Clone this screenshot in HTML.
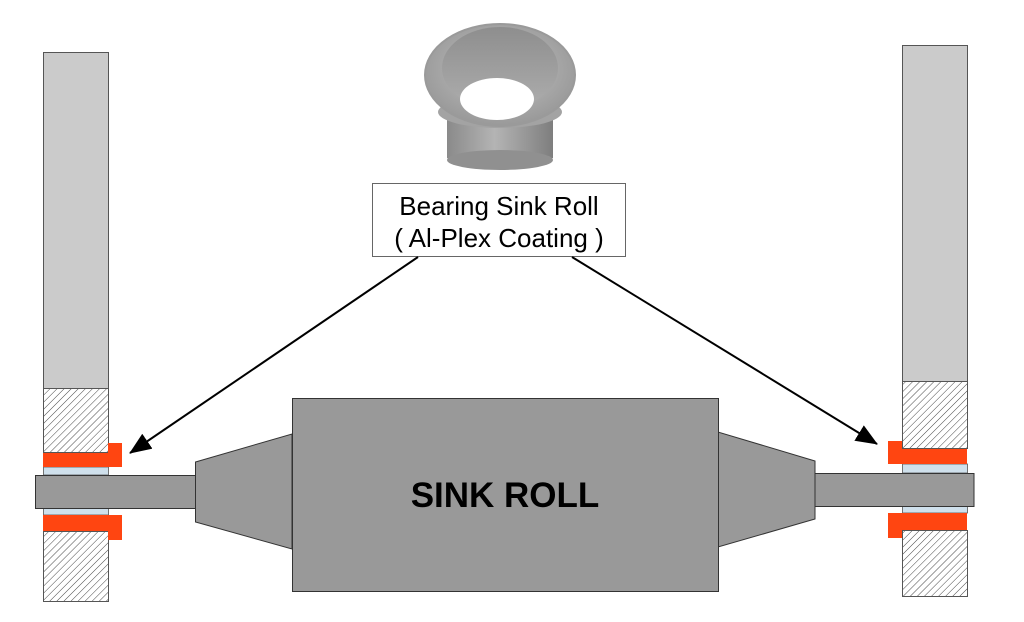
<!DOCTYPE html>
<html><head><meta charset="utf-8"><style>
html,body{margin:0;padding:0;background:#fff;}
svg{display:block;}
</style></head><body>
<svg width="1024" height="622" viewBox="0 0 1024 622" xmlns="http://www.w3.org/2000/svg">
<defs>
<pattern id="h" patternUnits="userSpaceOnUse" width="5" height="5" patternTransform="rotate(45)">
<rect width="5" height="5" fill="#fff"/><line x1="0" y1="0" x2="0" y2="5" stroke="#333" stroke-width="0.9"/>
</pattern>
<radialGradient id="flange" cx="50%" cy="45%" r="55%"><stop offset="0" stop-color="#c4c4c4"/><stop offset="1" stop-color="#999"/></radialGradient>
<linearGradient id="body" x1="0" x2="1"><stop offset="0" stop-color="#8a8a8a"/><stop offset="0.45" stop-color="#b4b4b4"/><stop offset="1" stop-color="#7e7e7e"/></linearGradient>
<linearGradient id="inner" x1="0" y1="0" x2="0" y2="1"><stop offset="0" stop-color="#8e8e8e"/><stop offset="1" stop-color="#adadad"/></linearGradient>
<marker id="ar" markerWidth="22" markerHeight="18" refX="21" refY="9" orient="auto" markerUnits="userSpaceOnUse"><path d="M0,0 L22,9 L0,18 Z" fill="#000"/></marker>
</defs>

<!-- bearing photo -->
<path d="M447,108 L447,158 Q500,178 553,158 L553,108 Z" fill="url(#body)"/>
<ellipse cx="500" cy="160" rx="53" ry="10" fill="#909090"/>
<ellipse cx="500" cy="112" rx="62" ry="16" fill="#a3a3a3"/>
<ellipse cx="500" cy="75" rx="75" ry="51" fill="url(#flange)" stroke="#9a9a9a" stroke-width="2"/>
<ellipse cx="500" cy="68" rx="58" ry="41" fill="url(#inner)"/>
<ellipse cx="497" cy="99" rx="37" ry="21" fill="#fff"/>

<!-- label -->
<rect x="372.5" y="183.5" width="253" height="73" fill="#fff" stroke="#666" stroke-width="1"/>
<text x="499" y="215" font-family="Liberation Sans, sans-serif" font-size="26" text-anchor="middle" fill="#000">Bearing Sink Roll</text>
<text x="499" y="247" font-family="Liberation Sans, sans-serif" font-size="26" text-anchor="middle" fill="#000">( Al-Plex Coating )</text>

<!-- left column -->
<rect x="43.5" y="52.5" width="65" height="336" fill="#cbcbcb" stroke="#555"/>
<rect x="43.5" y="388.5" width="65" height="64" fill="url(#h)" stroke="#555"/>
<rect x="43.5" y="531.5" width="65" height="70" fill="url(#h)" stroke="#555"/>
<rect x="43.5" y="467" width="65" height="8" fill="#cfe0ec" stroke="#555" stroke-width="0.8"/>
<rect x="43.5" y="508" width="65" height="7" fill="#cfe0ec" stroke="#555" stroke-width="0.8"/>
<path d="M43,453 L108,453 L108,443 L122,443 L122,467 L43,467 Z" fill="#ff4511"/>
<path d="M43,515 L122,515 L122,540 L108,540 L108,531 L43,531 Z" fill="#ff4511"/>

<!-- right column -->
<rect x="902.5" y="45.5" width="65" height="336" fill="#cbcbcb" stroke="#555"/>
<rect x="902.5" y="381.5" width="65" height="67" fill="url(#h)" stroke="#555"/>
<rect x="902.5" y="530.5" width="65" height="66" fill="url(#h)" stroke="#555"/>
<rect x="902.5" y="464" width="65" height="9" fill="#cfe0ec" stroke="#555" stroke-width="0.8"/>
<rect x="902.5" y="506" width="65" height="7" fill="#cfe0ec" stroke="#555" stroke-width="0.8"/>
<path d="M888,441 L902,441 L902,449 L967,449 L967,464 L888,464 Z" fill="#ff4511"/>
<path d="M888,513 L967,513 L967,530 L902,530 L902,538 L888,538 Z" fill="#ff4511"/>

<!-- shafts, cones, roll -->
<rect x="35.5" y="475.5" width="160" height="33" fill="#999" stroke="#333"/>
<path d="M195.5,462 L292,434 L292,549 L195.5,522 Z" fill="#999" stroke="#333"/>
<rect x="815" y="473.5" width="159" height="33" fill="#999" stroke="#333"/>
<path d="M815,461 L718,432 L718,547 L815,519 Z" fill="#999" stroke="#333"/>
<rect x="292.5" y="398.5" width="426" height="193" fill="#999" stroke="#333"/>
<text x="505" y="507" font-family="Liberation Sans, sans-serif" font-size="35" font-weight="bold" text-anchor="middle" fill="#000">SINK ROLL</text>

<!-- arrows -->
<line x1="418" y1="257" x2="130" y2="453" stroke="#000" stroke-width="2" marker-end="url(#ar)"/>
<line x1="572" y1="257" x2="877" y2="444" stroke="#000" stroke-width="2" marker-end="url(#ar)"/>
</svg>
</body></html>
